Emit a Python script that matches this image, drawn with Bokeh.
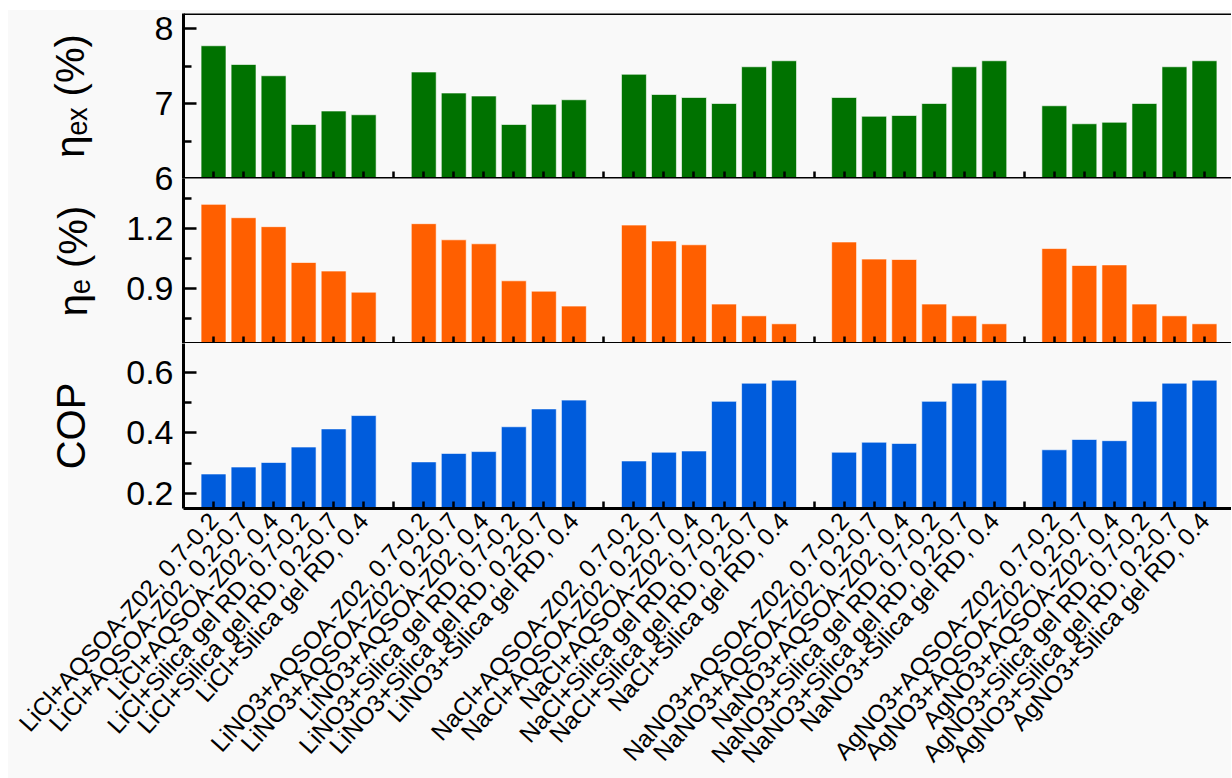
import math
from bokeh.plotting import figure
from bokeh.models import FixedTicker, Span, Range1d
from bokeh.layouts import column
from bokeh.embed import file_html
from bokeh.resources import INLINE

salts = ["LiCl", "LiNO3", "NaCl", "NaNO3", "AgNO3"]
configs = ["AQSOA-Z02, 0.7-0.2", "AQSOA-Z02, 0.2-0.7", "AQSOA-Z02, 0.4",
           "Silica gel RD, 0.7-0.2", "Silica gel RD, 0.2-0.7", "Silica gel RD, 0.4"]

eta_ex = [7.77, 7.52, 7.37, 6.72, 6.90, 6.85,
          7.42, 7.14, 7.10, 6.72, 6.99, 7.05,
          7.39, 7.12, 7.08, 7.00, 7.49, 7.57,
          7.08, 6.83, 6.84, 7.00, 7.49, 7.57,
          6.97, 6.73, 6.75, 7.00, 7.49, 7.57]
eta_e = [1.321, 1.254, 1.209, 1.029, 0.986, 0.880,
         1.224, 1.143, 1.123, 0.937, 0.885, 0.810,
         1.217, 1.137, 1.118, 0.820, 0.761, 0.721,
         1.132, 1.046, 1.044, 0.820, 0.761, 0.721,
         1.099, 1.014, 1.017, 0.820, 0.761, 0.721]
cop = [0.264, 0.287, 0.302, 0.353, 0.413, 0.457,
       0.304, 0.332, 0.338, 0.420, 0.479, 0.508,
       0.307, 0.336, 0.340, 0.504, 0.564, 0.574,
       0.336, 0.369, 0.365, 0.504, 0.564, 0.574,
       0.344, 0.378, 0.374, 0.504, 0.564, 0.574]

ex_ticks = [6, 7, 8]; ex_minor = [6.5, 7.5]; ex_labels = ["6", "7", "8"]
e_ticks = [0.9, 1.2]; e_minor = [0.75, 1.05, 1.35]; e_labels = ["0.9", "1.2"]
cop_ticks = [0.2, 0.4, 0.6]; cop_minor = [0.3, 0.5]; cop_labels = ["0.2", "0.4", "0.6"]

labels = [f"{s}+{c}" for s in salts for c in configs]
xs = [7 * g + i + 1 for g in range(len(salts)) for i in range(len(configs))]
gap_ticks = [7 * g for g in range(1, len(salts))]

BG = "#f9f9f9"
FONT = "Liberation Sans"
xr = Range1d(0, 34.9)
OVER = 26  # overlap (px) so the lowest tick label of the top panel is not clipped


def make(yr, vals, color, ylabel, major, minor, tlabels, standoff,
         bottom_labels=False, top_line=False, extra_bottom=0, transparent=False):
    p = figure(frame_width=1048, frame_height=165, x_range=xr, y_range=Range1d(*yr),
               output_backend="svg", toolbar_location=None,
               min_border_left=175, min_border_right=0,
               min_border_top=3 if top_line else 0, min_border_bottom=extra_bottom)
    p.background_fill_color = BG
    p.border_fill_color = None if transparent else BG
    p.outline_line_color = None
    p.xgrid.visible = False
    p.ygrid.visible = False
    p.vbar(x=xs, top=vals, bottom=yr[0] if yr[0] > 1 else 0, width=0.83,
           fill_color=color, line_color="white", line_alpha=0.6, line_width=1)
    ya = p.yaxis[0]
    ya.ticker = FixedTicker(ticks=major, minor_ticks=minor)
    ya.major_label_overrides = {t: l for t, l in zip(major, tlabels)}
    ya.axis_line_width = 3
    ya.major_tick_line_width = 2.5
    ya.minor_tick_line_width = 2.5
    ya.major_tick_in = 13
    ya.major_tick_out = 0
    ya.minor_tick_in = 8
    ya.minor_tick_out = 0
    ya.major_label_standoff = 10
    ya.major_label_text_font = FONT
    ya.major_label_text_font_size = "34px"
    ya.major_label_text_color = "black"
    ya.axis_label = ylabel
    ya.axis_label_text_font = FONT
    ya.axis_label_text_font_size = "40px"
    ya.axis_label_text_font_style = "normal"
    ya.axis_label_text_color = "black"
    ya.axis_label_standoff = standoff

    xa = p.xaxis[0]
    xa.ticker = FixedTicker(ticks=sorted(xs + gap_ticks))
    xa.axis_line_width = 3
    xa.major_tick_line_width = 2.5
    xa.major_tick_in = 7
    xa.major_tick_out = 0
    xa.minor_tick_line_color = None
    if bottom_labels:
        ov = {x: l for x, l in zip(xs, labels)}
        ov.update({g: "" for g in gap_ticks})
        xa.major_label_overrides = ov
        xa.major_label_orientation = math.radians(48)
        xa.major_label_text_font = FONT
        xa.major_label_text_font_size = "24.5px"
        xa.major_label_text_color = "black"
        xa.major_label_standoff = 8
    else:
        xa.major_label_overrides = {t: "" for t in sorted(xs + gap_ticks)}
        xa.major_label_text_font_size = "1px"
        xa.major_label_standoff = 0
    if top_line:
        p.add_layout(Span(location=yr[1], dimension="width", line_color="black", line_width=3))
    return p


p1 = make((6, 8.2), eta_ex, "#007200", "η\u2091\u2093 (%)", ex_ticks, ex_minor, ex_labels, 60,
          top_line=True, extra_bottom=OVER)
p2 = make((0.622, 1.451), eta_e, "#ff5f00", "η\u2091 (%)", e_ticks, e_minor, e_labels, 28,
          transparent=True)
p3 = make((0.15, 0.695), cop, "#005cdc", "COP", cop_ticks, cop_minor, cop_labels, 30,
          bottom_labels=True)
p2.margin = (-OVER, 0, 0, 0)

layout = column(p1, p2, p3, margin=(10, 0, 0, 8), spacing=0,
                styles={"background-color": BG})
open("out.html", "w").write(file_html(layout, INLINE))
